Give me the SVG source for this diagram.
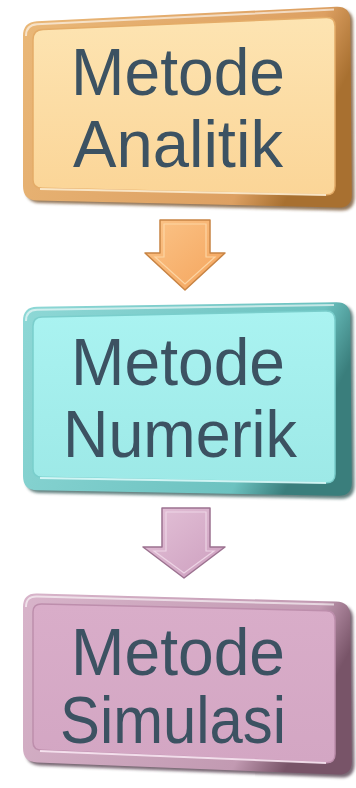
<svg xmlns="http://www.w3.org/2000/svg" width="356" height="788" viewBox="0 0 356 788">
  <defs>
    <filter id="soft" x="-10%" y="-10%" width="120%" height="120%">
      <feGaussianBlur stdDeviation="1.5"/>
    </filter>
    <!-- orange theme -->
    <linearGradient id="orFrame" x1="0" y1="0" x2="1" y2="0.3">
      <stop offset="0" stop-color="#eab878"/>
      <stop offset="0.85" stop-color="#dda062"/>
      <stop offset="1" stop-color="#a87030"/>
    </linearGradient>
    <linearGradient id="orFace" x1="0" y1="0" x2="0" y2="1">
      <stop offset="0" stop-color="#fde4b2"/>
      <stop offset="1" stop-color="#fbd597"/>
    </linearGradient>
    <linearGradient id="orArrow" x1="0" y1="0" x2="1" y2="1">
      <stop offset="0" stop-color="#fbc488"/>
      <stop offset="1" stop-color="#f4a45c"/>
    </linearGradient>
    <!-- teal theme -->
    <linearGradient id="tlFrame" x1="0" y1="0" x2="1" y2="0.3">
      <stop offset="0" stop-color="#8ed8d6"/>
      <stop offset="0.85" stop-color="#6cc2c0"/>
      <stop offset="1" stop-color="#3a7e7c"/>
    </linearGradient>
    <linearGradient id="tlFace" x1="0" y1="0" x2="0" y2="1">
      <stop offset="0" stop-color="#aaf3f1"/>
      <stop offset="1" stop-color="#9de9e7"/>
    </linearGradient>
    <!-- mauve theme -->
    <linearGradient id="mvFrame" x1="0" y1="0" x2="1" y2="0.3">
      <stop offset="0" stop-color="#d8b4ca"/>
      <stop offset="0.85" stop-color="#c29ab2"/>
      <stop offset="1" stop-color="#785468"/>
    </linearGradient>
    <linearGradient id="mvFace" x1="0" y1="0" x2="0" y2="1">
      <stop offset="0" stop-color="#d9adc9"/>
      <stop offset="1" stop-color="#d3a6c3"/>
    </linearGradient>
    <linearGradient id="mvArrow" x1="0" y1="0" x2="1" y2="1">
      <stop offset="0" stop-color="#e4c2d8"/>
      <stop offset="1" stop-color="#cc9ebe"/>
    </linearGradient>
  </defs>
  <style>
    .lbl { font-family: "Liberation Sans", Arial, sans-serif; font-size: 66px; fill: #3c5262; }
    .hl { fill: none; stroke: #ffffff; stroke-opacity: 0.6; stroke-width: 2; }
  </style>

  <rect width="356" height="788" fill="#ffffff"/>

  <!-- Metode Analitik -->
  <g id="node-analitik">
    <path d="M26,39 Q26,25 40,24.3 L339,9.5 Q353,9 353,23 L354.5,197 Q354.5,211 340.5,210.5 L40,203 Q26,202.5 26,189 Z" fill="#6e4a22" filter="url(#soft)" opacity="0.75"/>
    <path d="M23,36 Q23,22 37,21.3 L336,6.7 Q350,6 350.2,20 L351.8,194 Q352,208 338,207.5 L37,200.5 Q23,200 23,186 Z" fill="url(#orFrame)"/>
    <path d="M26,36 Q26,25 37,24.3 L334,9.5" class="hl"/>
    <path d="M33,40 Q33,30 43,29.6 L326,17.4 Q335,17 335,26 L335,186 Q335,195 326,194.8 L42,188.2 Q33,188 33,180 Z" fill="url(#orFace)" stroke="#e4ac68" stroke-width="1.5"/>
    <path d="M40,189 L326,195" stroke="#fff4dc" stroke-width="2" opacity="0.8"/>
    <text class="lbl" x="71" y="95" textLength="214" lengthAdjust="spacingAndGlyphs">Metode</text>
    <text class="lbl" x="73" y="167" textLength="210" lengthAdjust="spacingAndGlyphs">Analitik</text>
  </g>

  <!-- Metode Numerik -->
  <g id="node-numerik">
    <path d="M26,324 Q26,310 40,309.8 L339,305 Q353,304.8 353,319 L354.5,485 Q354.5,499 340.5,498.7 L40,493 Q26,492.8 26,479 Z" fill="#2e5654" filter="url(#soft)" opacity="0.75"/>
    <path d="M23,321 Q23,307 37,306.8 L336,302.2 Q350,302 350.2,316 L351.8,482 Q352,496 338,495.7 L37,490.3 Q23,490 23,476 Z" fill="url(#tlFrame)"/>
    <path d="M26,321 Q26,310 37,309.8 L334,305" class="hl"/>
    <path d="M33,326 Q33,317 42,316.9 L326,311.1 Q335,311 335,320 L335,474 Q335,483 326,482.8 L42,477.2 Q33,477 33,469 Z" fill="url(#tlFace)" stroke="#7acecc" stroke-width="1.5"/>
    <path d="M40,478 L326,483" stroke="#e6ffff" stroke-width="2" opacity="0.8"/>
    <text class="lbl" x="71" y="385" textLength="214" lengthAdjust="spacingAndGlyphs">Metode</text>
    <text class="lbl" x="63" y="457" textLength="234" lengthAdjust="spacingAndGlyphs">Numerik</text>
  </g>

  <!-- Metode Simulasi -->
  <g id="node-simulasi">
    <path d="M26,610 Q26,596 40,596.4 L339,605 Q353,605.4 353,619 L354.5,764 Q354.5,778 340.5,777.6 L40,765.4 Q26,765 26,751 Z" fill="#4c3444" filter="url(#soft)" opacity="0.75"/>
    <path d="M23,607 Q23,593 37,593.4 L336,601.6 Q350,602 350.2,616 L351.8,761 Q352,775 338,774.6 L37,762.4 Q23,762 23,748 Z" fill="url(#mvFrame)"/>
    <path d="M26,607 Q26,596 37,596.4 L334,604.6" class="hl"/>
    <path d="M33,612 Q33,603.7 42,604 L326,610.8 Q335,611 335,620 L335,754 Q335,763 326,762.7 L42,750.3 Q33,750 33,742 Z" fill="url(#mvFace)" stroke="#bd8eac" stroke-width="1.5"/>
    <path d="M40,751 L326,763" stroke="#fff0fa" stroke-width="2" opacity="0.8"/>
    <text class="lbl" x="71" y="675" textLength="214" lengthAdjust="spacingAndGlyphs">Metode</text>
    <text class="lbl" x="60" y="743" textLength="226" lengthAdjust="spacingAndGlyphs">Simulasi</text>
  </g>

  <!-- connectors: block arrows between the boxes -->
  <g id="connectors">
    <g id="arrow-analitik-numerik">
      <path d="M160,220 L210,220 L210,253 L225,253 L185,290 L145,253 L160,253 Z" fill="url(#orArrow)" stroke="#c88444" stroke-width="1.5" stroke-linejoin="round"/>
      <path d="M164,224 L206,224 L206,257 L215,257 L185,284 L155,257 L164,257 Z" fill="none" stroke="#fdd8a8" stroke-width="1.2" opacity="0.9"/>
    </g>
    <g id="arrow-numerik-simulasi">
      <path d="M162,508 L210,508 L210,547 L225,547 L184,578 L143,547 L162,547 Z" fill="url(#mvArrow)" stroke="#9c7290" stroke-width="1.5" stroke-linejoin="round"/>
      <path d="M166,512 L206,512 L206,551 L214,551 L184,573 L154,551 L166,551 Z" fill="none" stroke="#f0d8e8" stroke-width="1.2" opacity="0.9"/>
    </g>
  </g>
</svg>
